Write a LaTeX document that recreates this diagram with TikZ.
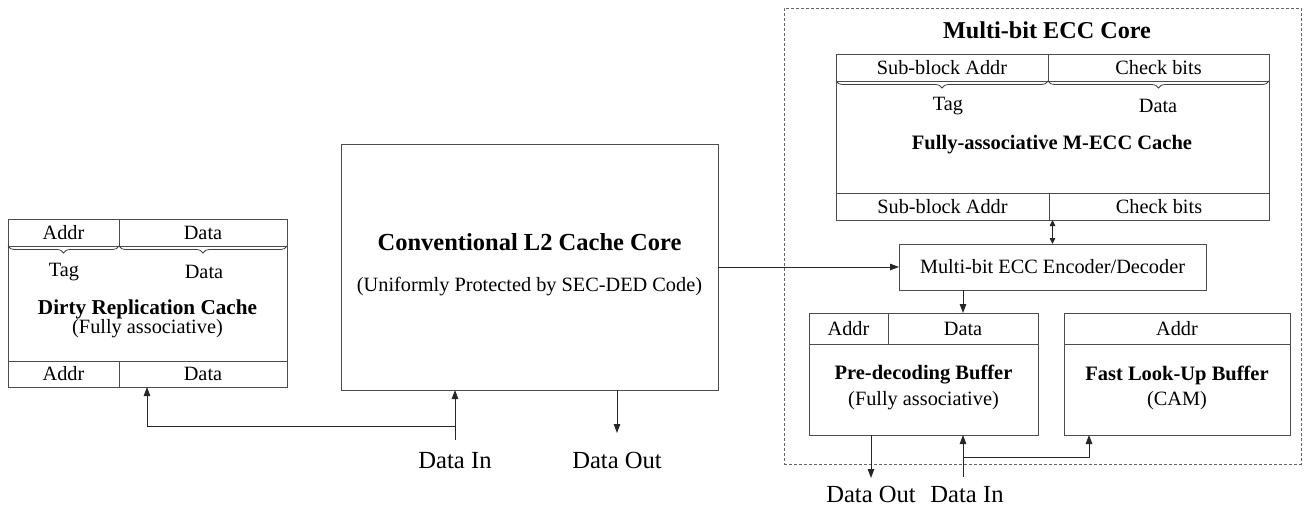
\documentclass[tikz,border=0pt]{standalone}
\usepackage{fontspec}
\setmainfont{Liberation Serif}
\usetikzlibrary{arrows.meta,decorations.pathreplacing,calc}
\begin{document}
\begin{tikzpicture}[x=1pt,y=-1pt,
  box/.style={draw=black!70, line width=0.9pt, inner sep=0pt, outer sep=0pt, anchor=north west, font=\fontsize{20.3}{23}\selectfont},
  lbl/.style={font=\fontsize{20.3}{23}\selectfont, inner sep=0pt},
  ttl/.style={font=\fontsize{20.5}{24}\selectfont\bfseries, inner sep=0pt},
  io/.style={font=\fontsize{24.6}{28}\selectfont, inner sep=0pt, anchor=base},
  arr/.style={draw=black!85, line width=0.9pt, -{Triangle[length=9pt,width=6.5pt]}},
  barr/.style={draw=black!85, line width=0.9pt, {Triangle[length=6pt,width=5.5pt]}-{Triangle[length=6pt,width=5.5pt]}},
  brc/.style={draw=black!75, line width=0.8pt, decorate, decoration={brace, amplitude=7pt, mirror}}]
\useasboundingbox (0,0) rectangle (1306,505);

% Dashed frame of the Multi-bit ECC core
\node[draw=black!60, line width=0.6pt, dash pattern=on 3pt off 2pt, inner sep=0pt, anchor=north west,
      minimum width=517, minimum height=456] (core) at (784,8) {};
\node[ttl, font=\fontsize{24.2}{28}\selectfont\bfseries] (coret) at (1047,30) {Multi-bit ECC Core};

% Dirty Replication Cache
\node[box, minimum width=279, minimum height=168] (drc) at (8,219) {};
\node[box, minimum width=111, minimum height=27] (drcha) at (8,219) {Addr};
\node[box, minimum width=168, minimum height=27] (drchd) at (119,219) {Data};
\node[box, minimum width=111, minimum height=26] (drcfa) at (8,361) {Addr};
\node[box, minimum width=168, minimum height=26] (drcfd) at (119,361) {Data};
\draw[brc] (drcha.south west) -- (drcha.south east);
\draw[brc] (drchd.south west) -- (drchd.south east);
\node[lbl] (drctag) at (64,272) {Tag};
\node[lbl] (drcdat) at (204,272) {Data};
\node[ttl, font=\fontsize{21.2}{24}\selectfont\bfseries] (drct) at (147.5,309) {Dirty Replication Cache};
\node[lbl] (drcs) at (147.5,329) {(Fully associative)};

% Conventional L2 cache core
\node[box, minimum width=377, minimum height=246] (l2) at (341,144) {};
\node[ttl, font=\fontsize{24.5}{28}\selectfont\bfseries] (l2t) at (529.5,242) {Conventional L2 Cache Core};
\node[lbl] (l2s) at (529.5,287) {(Uniformly Protected by SEC-DED Code)};

\node[io] (din1) at (455,468) {Data In};
\node[io] (dout1) at (617,468) {Data Out};
\coordinate (l2in) at (455,440);
\coordinate (l2out) at (617,433);
\coordinate (j1) at (455,426);
\draw[arr] (l2in) -- (l2in |- l2.south);
\draw[arr] (l2out |- l2.south) -- (l2out);
\draw[arr] (j1) -| ($(drc.south west)+(139,0)$);

% M-ECC cache
\node[box, minimum width=433, minimum height=166] (mecc) at (836,54) {};
\node[box, minimum width=212, minimum height=27] (mha) at (836,54) {Sub-block Addr};
\node[box, minimum width=221, minimum height=27] (mhc) at (1048,54) {Check bits};
\node[box, minimum width=213, minimum height=27] (mfa) at (836,193) {Sub-block Addr};
\node[box, minimum width=220, minimum height=27] (mfc) at (1049,193) {Check bits};
\draw[brc] (mha.south west) -- (mha.south east);
\draw[brc] (mhc.south west) -- (mhc.south east);
\node[lbl] (mtag) at (948,106) {Tag};
\node[lbl] (mdat) at (1158,106) {Data};
\node[ttl] (mt) at (1052,145) {Fully-associative M-ECC Cache};

% Encoder / decoder
\node[box, minimum width=307, minimum height=46] (enc) at (899,244) {Multi-bit ECC Encoder/Decoder};
\draw[barr] (mecc.south) -- (mecc.south |- enc.north);
\draw[arr] (l2.east |- enc.west) -- (enc.west);

% Pre-decoding buffer
\node[box, minimum width=229, minimum height=122] (pdb) at (809,313) {};
\node[box, minimum width=79, minimum height=31] (pdba) at (809,313) {Addr};
\node[box, minimum width=150, minimum height=31] (pdbd) at (888,313) {Data};
\node[ttl] (pdbt) at (923.5,375) {Pre-decoding Buffer};
\node[lbl] (pdbs) at (923.5,401) {(Fully associative)};
\draw[arr] (pdbd.north |- enc.south) -- (pdbd.north);

% Fast look-up buffer
\node[box, minimum width=226, minimum height=122] (flb) at (1064,313) {};
\node[box, minimum width=226, minimum height=31] (flba) at (1064,313) {Addr};
\node[ttl] (flbt) at (1177,375) {Fast Look-Up Buffer};
\node[lbl] (flbs) at (1177,401) {(CAM)};

% I/O of the buffers
\node[io] (dout2) at (871,502) {Data Out};
\node[io] (din2) at (967,502) {Data In};
\coordinate (pout) at (871,478);
\coordinate (pin) at (963,477);
\coordinate (j2) at (963,457);
\draw[arr] (pout |- pdb.south) -- (pout);
\draw[arr] (pin) -- (pin |- pdb.south);
\draw[arr] (j2) -| ($(flb.south west)+(25,0)$);
\end{tikzpicture}
\end{document}
